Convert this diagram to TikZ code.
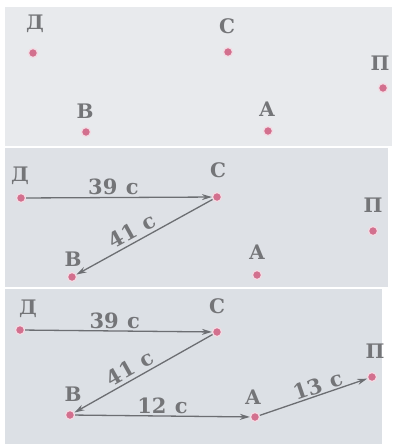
\documentclass[tikz,border=0pt]{standalone}
\usepackage{fontspec}
\setmainfont{DejaVu Serif}
\usetikzlibrary{arrows.meta}
\definecolor{bgone}{HTML}{E8EAED}
\definecolor{bgtwo}{HTML}{DEE1E6}
\definecolor{bgthree}{HTML}{DCE0E5}
\definecolor{dotpink}{HTML}{D2708E}
\definecolor{labgray}{HTML}{747578}
\definecolor{arrgray}{HTML}{6C6E72}
\tikzset{
  pt/.style={circle,fill=dotpink,draw=dotpink!25,line width=1.2pt,inner sep=0pt,minimum size=9pt},
  lab/.style={text=labgray,font=\fontsize{20}{20}\selectfont\bfseries,inner sep=0pt},
  num/.style={text=labgray,font=\fontsize{21}{21}\selectfont\bfseries,inner sep=1pt},
  arr/.style={draw=arrgray,line width=1.3pt,-{Stealth[length=10pt,width=6pt]}},
  panel/.style={fill=#1,draw=none}
}
\newcommand{\gap}{\hspace{0.4em}}
\begin{document}
\begin{tikzpicture}[x=1pt,y=-1pt]
\useasboundingbox (0,0) rectangle (401,444);
\fill[white] (0,0) rectangle (401,444);
% panels
\fill[panel=bgone] (5,7) rectangle (392,146);
\fill[panel=bgtwo] (5,148) rectangle (388,287);
\fill[panel=bgthree] (5,289) rectangle (382,444);
% panel 1
\node[pt] (d1) at (33,53) {};
\node[pt] (c1) at (228,52) {};
\node[pt] (p1) at (383,88) {};
\node[pt] (b1) at (86,132) {};
\node[pt] (a1) at (268,131) {};
\node[lab] (ld1) at (35,24) {Д};
\node[lab] (lc1) at (227,26) {С};
\node[lab] (lp1) at (380,63) {П};
\node[lab] (lb1) at (85,111) {В};
\node[lab] (la1) at (267,109) {А};
% panel 2
\node[pt] (d2) at (21,198) {};
\node[pt] (c2) at (217,197) {};
\node[pt] (p2) at (373,231) {};
\node[pt] (b2) at (72,277) {};
\node[pt] (a2) at (257,275) {};
\node[lab] (ld2) at (20,176) {Д};
\node[lab] (lc2) at (218,170) {С};
\node[lab] (lp2) at (373,205) {П};
\node[lab] (lb2) at (73,259) {В};
\node[lab] (la2) at (257,252) {А};
\draw[arr] (d2) -- node[num,above=1pt,pos=0.47] (t39b) {39\gap с} (c2);
\draw[arr] (c2) -- node[num,sloped,above=2pt,pos=0.55] (t41b) {41\gap с} (b2);
% panel 3
\node[pt] (d3) at (20,330) {};
\node[pt] (c3) at (217,332) {};
\node[pt] (p3) at (372,377) {};
\node[pt] (b3) at (70,415) {};
\node[pt] (a3) at (255,417) {};
\node[lab] (ld3) at (28,309) {Д};
\node[lab] (lc3) at (217,306) {С};
\node[lab] (lp3) at (375,351) {П};
\node[lab] (lb3) at (73,394) {В};
\node[lab] (la3) at (253,397) {А};
\draw[arr] (d3) -- node[num,above=1pt,pos=0.48] (t39c) {39\gap с} (c3);
\draw[arr] (c3) -- node[num,sloped,above=2pt,pos=0.56] (t41c) {41\gap с} (b3);
\draw[arr] (b3) -- node[num,above=1pt,pos=0.5] (t12c) {12\gap с} (a3);
\draw[arr] (a3) -- node[num,sloped,above=0pt,pos=0.57] (t13c) {13\gap с} (p3);
\end{tikzpicture}
\end{document}
